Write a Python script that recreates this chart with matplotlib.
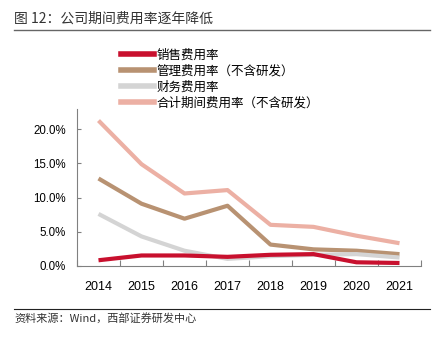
import matplotlib
matplotlib.use("Agg")
import matplotlib.pyplot as plt
from matplotlib.lines import Line2D
from matplotlib.ticker import FuncFormatter, MultipleLocator

plt.rcParams['font.family'] = ['Liberation Sans', 'Noto Sans CJK SC', 'DejaVu Sans']

years = ['2014', '2015', '2016', '2017', '2018', '2019', '2020', '2021']

# values in %
sales = [0.8, 1.5, 1.5, 1.3, 1.6, 1.7, 0.5, 0.4]
admin = [12.8, 9.1, 6.9, 8.8, 3.1, 2.4, 2.2, 1.7]
finance = [7.6, 4.3, 2.2, 1.0, 1.4, 1.6, 1.7, 1.2]
total = [21.3, 14.9, 10.6, 11.1, 6.0, 5.7, 4.4, 3.3]

labels = ['销售费用率', '管理费用率（不含研发）', '财务费用率', '合计期间费用率（不含研发）']
colors = ['#C8102E', '#B89272', '#D4D4D4', '#ECB0A4']

fig = plt.figure(figsize=(4.42, 3.41), dpi=100)
ax = fig.add_axes([0.1742, 0.2208, 0.7783, 0.4596])

x = list(range(len(years)))
# draw order: total at back, sales on top
for vals, c in zip([total, admin, finance, sales], [colors[3], colors[1], colors[2], colors[0]]):
    ax.plot(x, [v / 100 for v in vals], color=c, lw=3, solid_capstyle='butt')

ax.set_xlim(-0.5, len(years) - 0.5)
ax.set_ylim(0, 0.23)
ax.yaxis.set_major_locator(MultipleLocator(0.05))
ax.yaxis.set_major_formatter(FuncFormatter(lambda v, p: f"{v*100:.1f}%"))
ax.set_xticks([i - 0.5 for i in range(len(years) + 1)])
ax.set_xticklabels([])
ax.set_xticks(x, minor=True)
ax.set_xticklabels(years, minor=True)
ax.tick_params(axis='x', which='minor', length=0, pad=11, labelsize=9)
ax.tick_params(axis='x', which='major', direction='in', length=4, color='#808080')
ax.tick_params(axis='y', direction='in', length=3, color='#808080', labelsize=8.3, pad=8)
for s in ['top', 'right']:
    ax.spines[s].set_visible(False)
for s in ['left', 'bottom']:
    ax.spines[s].set_color('#808080')
    ax.spines[s].set_linewidth(0.8)

handles = [Line2D([], [], color=c, lw=4) for c in colors]
fig.legend(handles, labels, loc='upper left', bbox_to_anchor=(0.274, 0.858),
           frameon=False, handlelength=2.6, handletextpad=0.25, labelspacing=0.24,
           borderaxespad=0, borderpad=0, prop={'family': ['Noto Sans CJK SC'], 'size': 9})

fig.text(0.032, 0.946, '图 12：公司期间费用率逐年降低', fontsize=10,
         family=['Noto Sans CJK SC'], va='center', ha='left', color='#333333')
fig.add_artist(Line2D([0.032, 0.973], [0.912, 0.912], color='#666666', lw=1))
fig.add_artist(Line2D([0.032, 0.973], [0.094, 0.094], color='#222222', lw=0.8))
fig.text(0.032, 0.067, '资料来源：Wind，西部证券研发中心', fontsize=8,
         family=['Noto Sans CJK SC', 'Liberation Sans'], va='center', ha='left', color='#333333')

fig.savefig('out.png', dpi=100)
